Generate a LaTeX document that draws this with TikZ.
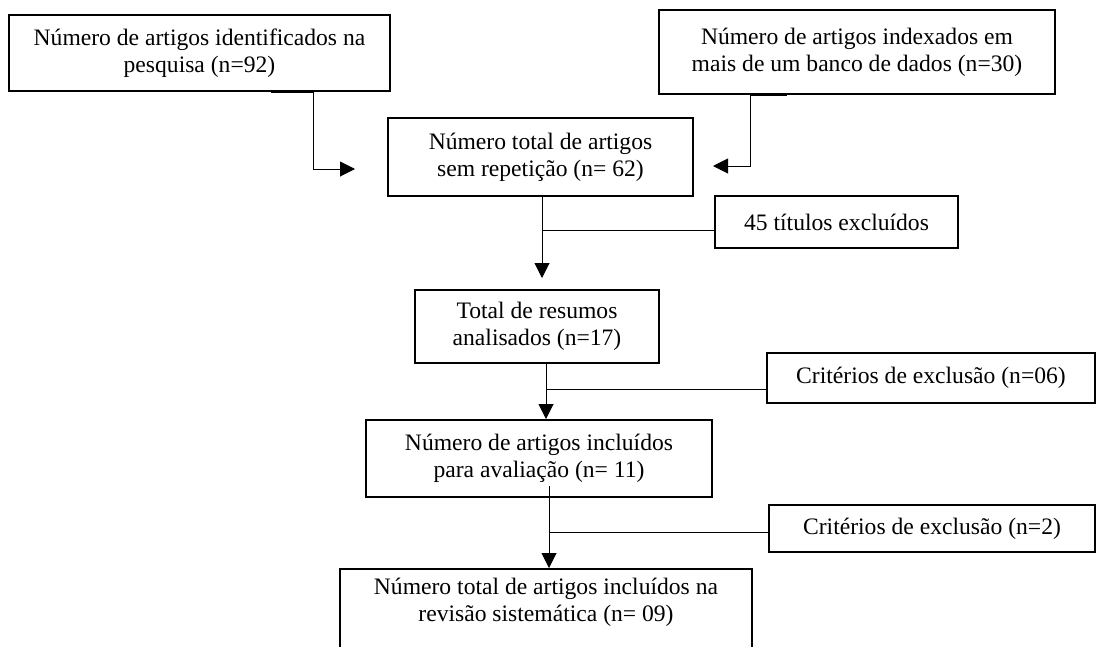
\documentclass[tikz,border=0pt]{standalone}
\usepackage{fontspec}
\setmainfont{Liberation Serif}
\usetikzlibrary{arrows.meta}
\begin{document}
\begin{tikzpicture}[x=1pt,y=-1pt,
  box/.style={draw, line width=2pt, align=center, inner sep=0pt,
    font=\fontsize{23.6}{27}\selectfont},
  conn/.style={line width=1pt},
  arr/.style={conn,-{Triangle[length=15pt,width=15pt]}},
  seam/.style={line width=2.6pt}]
\useasboundingbox (0,0) rectangle (1096,646);
\clip (0,0) rectangle (1096,646);
\node[box,minimum width=381pt,minimum height=76pt] (b1) at (199.5,53)
  {Número de artigos identificados na\\pesquisa (n=92)};
\node[box,minimum width=396pt,minimum height=84pt] (bTR) at (857,52)
  {Número de artigos indexados em\\mais de um banco de dados (n=30)};
\node[box,minimum width=305pt,minimum height=78pt] (b2) at (540.5,157)
  {Número total de artigos\\sem repetição (n= 62)};
\node[box,minimum width=243pt,minimum height=52pt] (b45) at (836.5,222)
  {45 títulos excluídos};
\node[box,minimum width=244pt,minimum height=73pt] (bT) at (537,326.5)
  {Total de resumos\\analisados (n=17)};
\node[box,minimum width=328pt,minimum height=50pt] (b06) at (931,378)
  {Critérios de exclusão (n=06)};
\node[box,minimum width=346pt,minimum height=77pt] (bI) at (539,458.5)
  {Número de artigos incluídos\\para avaliação (n= 11)};
\node[box,minimum width=326pt,minimum height=47pt] (b2c) at (932,528.5)
  {Critérios de exclusão (n=2)};
\node[box,minimum width=412pt,minimum height=96pt] (bF) at (546,617)
  {Número total de artigos incluídos na\\revisão sistemática (n= 09)\\\strut};
% connectors
\draw[seam] ([xshift=71.5pt]b1.south) -- ([xshift=113.5pt]b1.south);
\draw[arr] ([xshift=113.5pt]b1.south) |- ([xshift=-32pt,yshift=-12pt]b2.west);
\draw[seam] ([xshift=-107pt]bTR.south) -- ([xshift=-70pt]bTR.south);
\draw[arr] ([xshift=-107pt]bTR.south) |- ([xshift=19pt,yshift=-9pt]b2.east);
\draw[arr] ([xshift=1.5pt]b2.south) -- ([xshift=5pt,yshift=11pt]bT.north);
\draw[conn] ([yshift=-8pt]b45.west) -- ([xshift=-172pt,yshift=-8pt]b45.west);
\draw[arr] ([xshift=9pt]bT.south) -- ([xshift=7pt]bI.north);
\draw[conn] ([yshift=-11pt]b06.west) -- ([xshift=-220pt,yshift=-11pt]b06.west);
\draw[arr] ([xshift=10pt,yshift=12pt]bI.south) -- ([xshift=3pt]bF.north);
\draw[conn] ([yshift=-3.5pt]b2c.west) -- ([xshift=-219pt,yshift=-3.5pt]b2c.west);
\end{tikzpicture}
\end{document}
